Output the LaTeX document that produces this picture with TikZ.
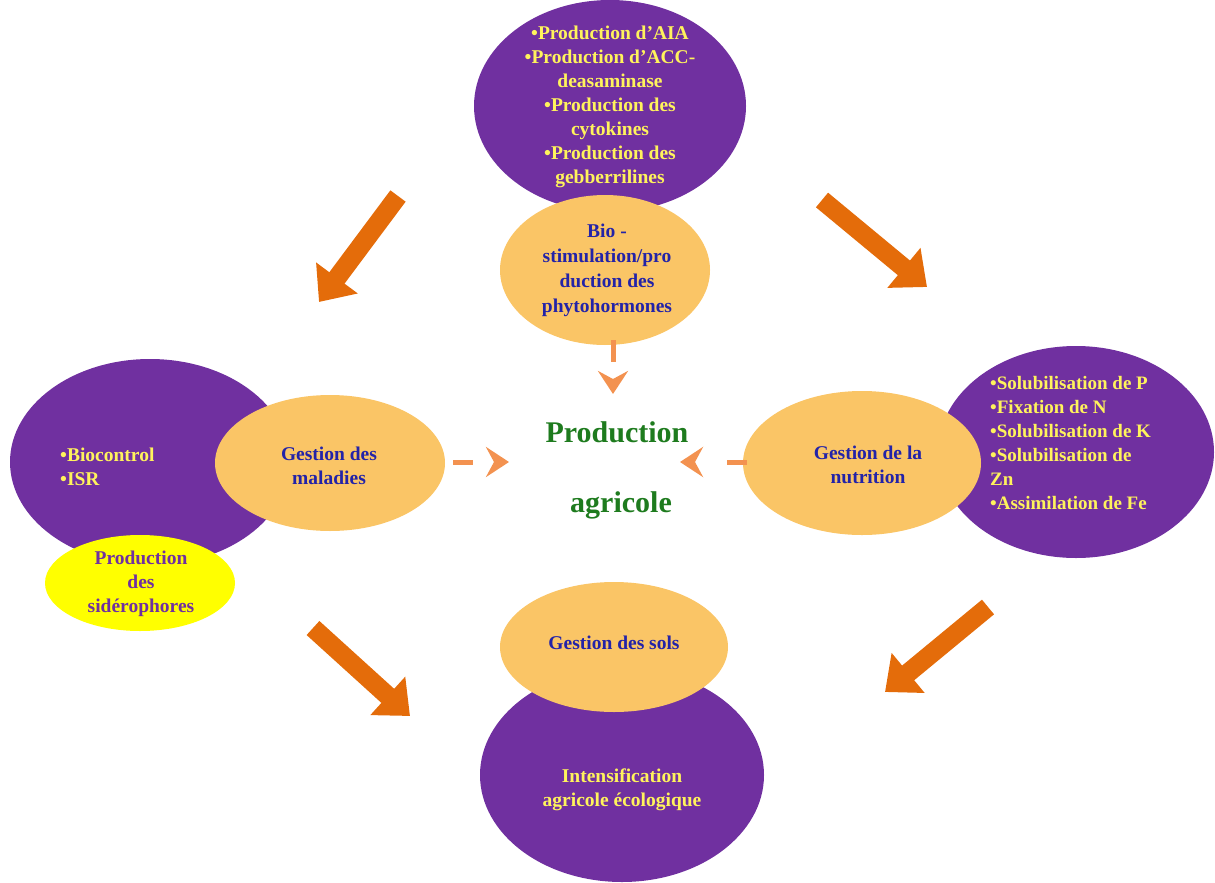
\documentclass[tikz,border=0pt]{standalone}
\usepackage{fontspec}
\setmainfont{Liberation Serif}
\usetikzlibrary{shapes.geometric,arrows.meta}
\definecolor{purp}{HTML}{7030A0}
\definecolor{lorange}{HTML}{FAC566}
\definecolor{yel}{HTML}{FFFF00}
\definecolor{txtyel}{HTML}{FFF35C}
\definecolor{txtblue}{HTML}{2323A8}
\definecolor{txtgreen}{HTML}{1E7B1E}
\definecolor{blockor}{HTML}{E46C0A}
\definecolor{dashor}{HTML}{F39250}
\tikzset{
  ell/.style={ellipse, inner sep=0pt, draw=none},
  purpell/.style={ell, fill=purp},
  orell/.style={ell, fill=lorange},
  yelell/.style={ell, fill=yel},
  txt/.style={font=\bfseries\fontsize{19.5}{24}\selectfont, align=center, inner sep=0pt},
  ytxt/.style={txt, text=txtyel},
  btxt/.style={txt, text=txtblue},
  ptxt/.style={txt, text=purp},
  blockarrow/.style={draw=blockor, line width=19pt, line cap=butt, -{Triangle[width=50pt,length=30pt]}},
  dasharrow/.style={draw=dashor, line width=5pt, -{Stealth[width=30pt,length=23pt,inset=8pt]}},
}
\begin{document}
\begin{tikzpicture}[x=1pt,y=-1pt]
\useasboundingbox (0,0) rectangle (1215,883);
% purple ellipses
\node[purpell, minimum width=272pt, minimum height=212pt] (topP) at (610,106) {};
\node[purpell, minimum width=280pt, minimum height=206pt] (leftP) at (150,462) {};
\node[purpell, minimum width=276pt, minimum height=212pt] (rightP) at (1076,452) {};
\node[purpell, minimum width=284pt, minimum height=214pt] (botP) at (622,775) {};
% orange / yellow ellipses
\node[orell, minimum width=210pt, minimum height=150pt] (topO) at (605,270) {};
\node[orell, minimum width=230pt, minimum height=136pt] (leftO) at (330,463) {};
\node[yelell, minimum width=190pt, minimum height=96pt] (sidero) at (140,583) {};
\node[orell, minimum width=238pt, minimum height=144pt] (rightO) at (862,463) {};
\node[orell, minimum width=228pt, minimum height=130pt] (botO) at (614,647) {};
% texts
\node[ytxt] (topPt) at (610,107) {•Production d’AIA\\•Production d’ACC-\\deasaminase\\•Production des\\cytokines\\•Production des\\gebberrilines};
\node[btxt, font=\bfseries\fontsize{19.5}{25}\selectfont] (topOt) at (607,270) {Bio -\\stimulation/pro\\duction des\\phytohormones};
\node[ytxt, align=left, anchor=west] (leftPt) at (60,467) {•Biocontrol\\•ISR};
\node[btxt] (leftOt) at (329,466) {Gestion des\\maladies};
\node[ptxt] (siderot) at (141,584) {Production\\des\\sidérophores};
\node[btxt] (rightOt) at (868,465) {Gestion de la\\nutrition};
\node[ytxt, align=left, anchor=west, font=\bfseries\fontsize{19}{24}\selectfont] (rightPt) at (990,443) {•Solubilisation de P\\•Fixation de N\\•Solubilisation de K\\•Solubilisation de\\Zn\\•Assimilation de Fe};
\node[btxt] (botOt) at (614,643) {Gestion des sols};
\node[ytxt] (botPt) at (622,790) {Intensification\\agricole écologique};
\node[txt, text=txtgreen, font=\bfseries\fontsize{30}{36}\selectfont] (prod) at (617,432) {Production};
\node[txt, text=txtgreen, font=\bfseries\fontsize{30}{36}\selectfont] (agri) at (621,505) {agricole};
% block arrows
\coordinate (a1s) at (398,196); \coordinate (a1e) at (319,302);
\coordinate (a2s) at (822,200); \coordinate (a2e) at (927,287);
\coordinate (a3s) at (313,628); \coordinate (a3e) at (410,716);
\coordinate (a4s) at (988,607); \coordinate (a4e) at (885,692);
\draw[blockarrow] (a1s) -- (a1e);
\draw[blockarrow] (a2s) -- (a2e);
\draw[blockarrow] (a3s) -- (a3e);
\draw[blockarrow] (a4s) -- (a4e);
% dashed arrows
\coordinate (d1s) at (613,340); \coordinate (d1e) at (613,394);
\coordinate (d2s) at (453,462); \coordinate (d2e) at (509,462);
\coordinate (d3s) at (747,462); \coordinate (d3e) at (680,462);
\draw[dasharrow, dash pattern=on 22pt off 40pt] (d1s) -- (d1e);
\draw[dasharrow, dash pattern=on 20pt off 40pt] (d2s) -- (d2e);
\draw[dasharrow, dash pattern=on 20pt off 40pt] (d3s) -- (d3e);
\end{tikzpicture}
\end{document}
